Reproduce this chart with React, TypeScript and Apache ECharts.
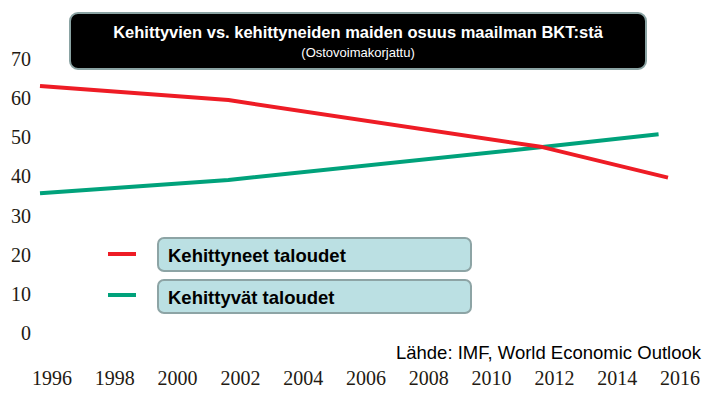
import React, { useEffect, useRef } from "react";
import * as echarts from "echarts";

const titleText = "Kehittyvien vs. kehittyneiden maiden osuus maailman BKT:stä";
const subtitleText = "(Ostovoimakorjattu)";
const sourceText = "Lähde: IMF, World Economic Outlook";

const seriesNames = ["Kehittyneet taloudet", "Kehittyvät taloudet"];
const advancedYears = [1996, 2002, 2012, 2016];
const advancedValues = [63.1, 59.5, 47.5, 39.7];
const emergingYears = [1996, 2002, 2012, 2015.7];
const emergingValues = [35.7, 39.1, 47.5, 50.8];

const RED = "#ee1c25";
const GREEN = "#00a27b";

export default function App() {
  const ref = useRef<HTMLDivElement>(null);
  useEffect(() => {
    if (!ref.current) return;
    const chart = echarts.init(ref.current, null, { renderer: "svg" });
    const pair = (xs: number[], ys: number[]) => xs.map((x, i) => [x, ys[i]]);
    const sans = "'Liberation Sans', Arial, sans-serif";
    const serif = "'Liberation Serif', 'Times New Roman', serif";
    chart.setOption({
      animation: false,
      backgroundColor: "#ffffff",
      grid: { left: 40, right: 47, top: 59, bottom: 63 },
      xAxis: {
        type: "value",
        min: 1996,
        max: 2016,
        interval: 2,
        axisLine: { show: false },
        axisTick: { show: false },
        splitLine: { show: false },
        axisLabel: {
          margin: 35,
          padding: [0, 0, 0, 24],
          fontFamily: serif,
          fontSize: 20,
          color: "#231a12",
          formatter: (v: number) => String(v),
        },
      },
      yAxis: {
        type: "value",
        min: 0,
        max: 70,
        interval: 10,
        axisLine: { show: false },
        axisTick: { show: false },
        splitLine: { show: false },
        axisLabel: { margin: 9, fontFamily: serif, fontSize: 20, color: "#231a12" },
      },
      series: [
        {
          name: seriesNames[0],
          type: "line",
          data: pair(advancedYears, advancedValues),
          showSymbol: false,
          lineStyle: { color: RED, width: 4 },
          z: 3,
        },
        {
          name: seriesNames[1],
          type: "line",
          data: pair(emergingYears, emergingValues),
          showSymbol: false,
          lineStyle: { color: GREEN, width: 4 },
          z: 2,
        },
      ],
      graphic: [
        {
          type: "rect",
          shape: { x: 70, y: 13, width: 576, height: 56, r: 8 },
          style: { fill: "#000", stroke: "#8aa3a3", lineWidth: 2 },
          z: 10,
        },
        {
          type: "text",
          x: 358,
          y: 32,
          style: {
            text: titleText,
            fill: "#fff",
            font: `bold 16.5px ${sans}`,
            align: "center",
            verticalAlign: "middle",
          },
          z: 11,
        },
        {
          type: "text",
          x: 358,
          y: 52,
          style: {
            text: subtitleText,
            fill: "#fff",
            font: `13px ${sans}`,
            align: "center",
            verticalAlign: "middle",
          },
          z: 11,
        },
        {
          type: "line",
          shape: { x1: 108, y1: 254, x2: 136, y2: 254 },
          style: { stroke: RED, lineWidth: 4 },
        },
        {
          type: "line",
          shape: { x1: 108, y1: 295, x2: 136, y2: 295 },
          style: { stroke: GREEN, lineWidth: 4 },
        },
        {
          type: "rect",
          shape: { x: 158, y: 238, width: 313, height: 33, r: 6 },
          style: { fill: "#bbe0e3", stroke: "#8da4a5", lineWidth: 2 },
        },
        {
          type: "rect",
          shape: { x: 158, y: 280, width: 313, height: 33, r: 6 },
          style: { fill: "#bbe0e3", stroke: "#8da4a5", lineWidth: 2 },
        },
        {
          type: "text",
          x: 168,
          y: 255,
          style: {
            text: seriesNames[0],
            fill: "#000",
            font: `bold 18.5px ${sans}`,
            verticalAlign: "middle",
          },
        },
        {
          type: "text",
          x: 168,
          y: 297,
          style: {
            text: seriesNames[1],
            fill: "#000",
            font: `bold 18.5px ${sans}`,
            verticalAlign: "middle",
          },
        },
        {
          type: "text",
          x: 701,
          y: 352,
          style: {
            text: sourceText,
            fill: "#000",
            font: `18.5px ${sans}`,
            align: "right",
            verticalAlign: "middle",
          },
        },
      ],
    });
    return () => chart.dispose();
  }, []);
  return (
    <div
      ref={ref}
      style={{ position: "fixed", left: 0, top: 0, width: 715, height: 396 }}
    />
  );
}
